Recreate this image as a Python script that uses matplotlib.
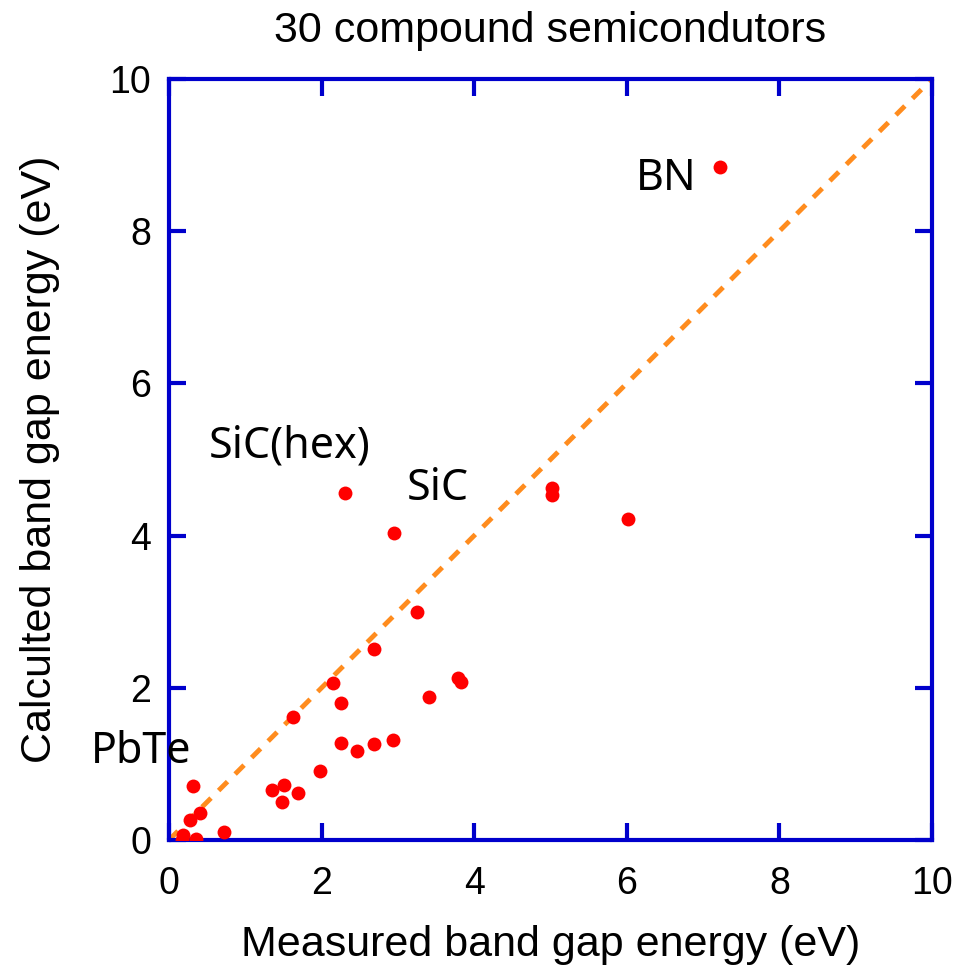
import matplotlib
matplotlib.use("Agg")
import matplotlib.pyplot as plt

measured = [7.22, 2.31, 2.95, 3.25, 5.02, 5.02, 6.02,
            2.68, 2.15, 2.26, 1.62, 3.41, 3.79, 3.83, 2.25, 2.46, 2.68, 2.93,
            1.98, 0.31, 1.35, 1.51, 1.48, 1.69, 0.41, 0.28, 0.72, 0.18, 0.17, 0.35]
calculated = [8.84, 4.56, 4.03, 3.00, 4.63, 4.53, 4.22,
              2.51, 2.06, 1.80, 1.62, 1.88, 2.13, 2.08, 1.28, 1.17, 1.26, 1.32,
              0.90, 0.71, 0.66, 0.72, 0.50, 0.62, 0.35, 0.26, 0.11, 0.07, 0.00, 0.01]
labels = ["BN", "SiC(hex)", "SiC", "PbTe"]
label_pos = [(6.12, 8.54), (0.52, 5.03), (3.12, 4.47), (-1.02, 1.01)]
ticks = [0, 2, 4, 6, 8, 10]
diag = [0, 10]

plt.rcParams['font.family'] = ['Liberation Sans', 'DejaVu Sans']

fig = plt.figure(figsize=(9.77, 9.74), dpi=100)
ax = fig.add_axes([0.173, 0.1376, 0.781, 0.7814])
blue = '#0000CC'

ax.plot(diag, diag, linestyle=(0, (2.6, 2.2)), color='#FF8C1E', linewidth=3.5, zorder=2)
ax.plot(measured, calculated, 'o', color='#FF0000', markersize=10, markeredgewidth=0, zorder=3)

for t, (x, y) in zip(labels, label_pos):
    ax.text(x, y, t, fontsize=31, ha='left', va='baseline', color='black',
            family=['Noto Sans', 'DejaVu Sans'], clip_on=False)

ax.set_xlim(0, 10)
ax.set_ylim(0, 10)
ax.set_xticks(ticks)
ax.set_yticks(ticks)
ax.tick_params(direction='in', length=12, width=3, color=blue, labelsize=27,
               top=True, right=True)
ax.tick_params(axis='x', pad=19)
ax.tick_params(axis='y', pad=13)
for s in ax.spines.values():
    s.set_color(blue)
    s.set_linewidth(3)

ax.set_xlabel('Measured band gap energy (eV)', fontsize=31)
ax.xaxis.set_label_coords(0.5, -0.112)
ax.set_ylabel('Calculted band gap energy (eV)', fontsize=31)
ax.yaxis.set_label_coords(-0.143, 0.5)
fig.text(550 / 977, 1 - 42 / 974, '30 compound semicondutors', fontsize=31,
         ha='center', va='baseline')

fig.savefig('out.png', dpi=100)
